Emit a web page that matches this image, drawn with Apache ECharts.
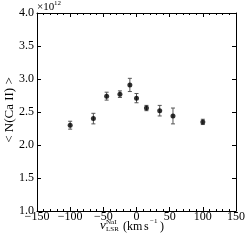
<!DOCTYPE html>
<html><head><meta charset="utf-8">
<script src="https://cdn.jsdelivr.net/npm/echarts@6/dist/echarts.min.js"></script>
<style>html,body{margin:0;padding:0;background:#fff}#c{width:249px;height:249px}</style>
</head><body><div id="c"></div>
<script>
const velocities = [-100, -65, -45, -25, -10, 0, 15, 35, 55, 100];
const meanN = [2.30, 2.40, 2.74, 2.77, 2.91, 2.71, 2.56, 2.52, 2.44, 2.35];
const errN = [0.06, 0.08, 0.06, 0.05, 0.10, 0.07, 0.04, 0.08, 0.12, 0.04];
const xTicks = [-150, -100, -50, 0, 50, 100, 150];
const yTicks = [1.0, 1.5, 2.0, 2.5, 3.0, 3.5, 4.0];

const F = 'Liberation Serif';
const fmtX = v => (v < 0 ? '\u2212' + Math.abs(v) : String(v));
const pts = velocities.map((v, i) => [v, meanN[i]]);
const errData = velocities.map((v, i) => [v, meanN[i] - errN[i], meanN[i] + errN[i]]);

const chart = echarts.init(document.getElementById('c'), null, {renderer: 'canvas'});
const axisCommon = {
  axisLine: {onZero: false, lineStyle: {color: '#000', width: 1}},
  axisTick: {inside: true, length: 4, lineStyle: {color: '#000'}},
  splitLine: {show: false}
};
chart.setOption({
  animation: false,
  grid: {left: 37, right: 13, top: 13, bottom: 38},
  xAxis: [
    Object.assign({type: 'value', min: xTicks[0], max: xTicks[xTicks.length - 1], interval: 50, position: 'bottom',
      axisLabel: {fontFamily: F, fontSize: 12, color: '#000', margin: 1, lineHeight: 10, formatter: fmtX},
      minorTick: {show: true, splitNumber: 5, length: 2, lineStyle: {color: '#000'}}}, axisCommon),
    Object.assign({type: 'value', min: xTicks[0], max: xTicks[xTicks.length - 1], interval: 50, position: 'top',
      axisLabel: {show: false},
      minorTick: {show: true, splitNumber: 5, length: 2, lineStyle: {color: '#000'}}}, axisCommon)
  ],
  yAxis: [
    Object.assign({type: 'value', min: yTicks[0], max: yTicks[yTicks.length - 1], interval: 0.5, position: 'left',
      axisLabel: {fontFamily: F, fontSize: 12, color: '#000', margin: 3, formatter: v => v.toFixed(1)}}, axisCommon),
    Object.assign({type: 'value', min: yTicks[0], max: yTicks[yTicks.length - 1], interval: 0.5, position: 'right',
      axisLabel: {show: false}}, axisCommon)
  ],
  series: [
    {
      type: 'custom',
      data: errData,
      z: 2,
      renderItem: function (params, api) {
        const x = api.value(0);
        const lo = api.coord([x, api.value(1)]);
        const hi = api.coord([x, api.value(2)]);
        const w = 2;
        const style = {stroke: '#555', lineWidth: 1};
        return {type: 'group', children: [
          {type: 'line', shape: {x1: lo[0], y1: lo[1], x2: hi[0], y2: hi[1]}, style},
          {type: 'line', shape: {x1: lo[0] - w, y1: lo[1], x2: lo[0] + w, y2: lo[1]}, style},
          {type: 'line', shape: {x1: hi[0] - w, y1: hi[1], x2: hi[0] + w, y2: hi[1]}, style}
        ]};
      }
    },
    {type: 'scatter', data: pts, symbol: 'circle', symbolSize: 5, z: 3, itemStyle: {color: '#000'}}
  ],
  graphic: [
    {type: 'text', left: 37, top: 2, style: {text: '\u00d710', font: '11px "Liberation Serif"', fill: '#000'}},
    {type: 'text', left: 54, top: 0, style: {text: '12', font: '7px "Liberation Serif"', fill: '#000'}},
    {type: 'text', x: 10, y: 110, rotation: Math.PI / 2, style: {text: '< N(Ca II) >', font: '13px "Liberation Serif"', fill: '#000', align: 'center', verticalAlign: 'middle'}},
    {type: 'text', x: 100, y: 226, style: {text: 'v', font: 'italic 13px "Liberation Serif"', fill: '#000', verticalAlign: 'middle'}},
    {type: 'text', x: 106, y: 222, style: {text: 'NaI', font: '7px "Liberation Serif"', fill: '#000', verticalAlign: 'middle'}},
    {type: 'text', x: 106, y: 229, style: {text: 'LSR', font: '7px "Liberation Serif"', fill: '#000', verticalAlign: 'middle'}},
    {type: 'text', x: 123, y: 227, style: {text: '(km', font: '12px "Liberation Serif"', fill: '#000', verticalAlign: 'middle'}},
    {type: 'text', x: 144, y: 227, style: {text: 's', font: '12px "Liberation Serif"', fill: '#000', verticalAlign: 'middle'}},
    {type: 'text', x: 150, y: 221, style: {text: '\u22121', font: '7px "Liberation Serif"', fill: '#000', verticalAlign: 'middle'}},
    {type: 'text', x: 160, y: 227, style: {text: ')', font: '12px "Liberation Serif"', fill: '#000', verticalAlign: 'middle'}}
  ]
});
</script></body></html>
